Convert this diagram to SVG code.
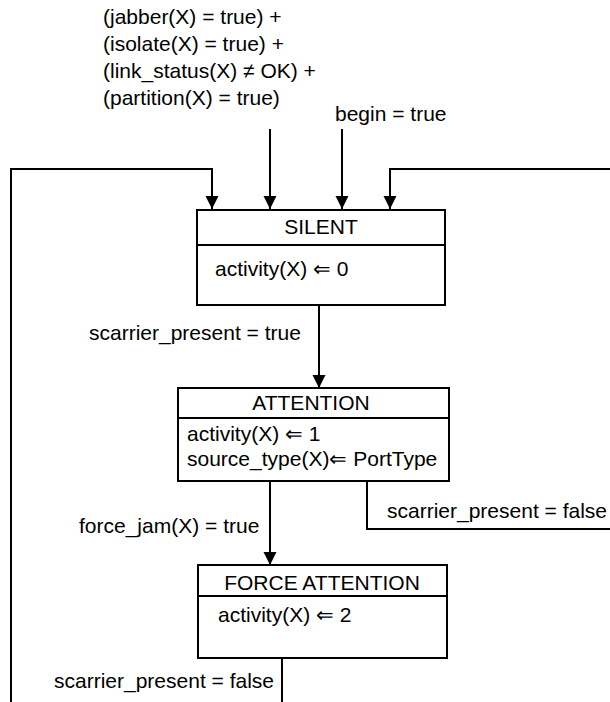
<svg xmlns="http://www.w3.org/2000/svg" width="610" height="702" viewBox="0 0 610 702">
<style>
text{font-family:"Liberation Sans",Arial,sans-serif;font-size:21px;fill:#000}
.c{text-anchor:middle}
.box{fill:#fff;stroke:#000;stroke-width:2}
.ln{fill:none;stroke:#000;stroke-width:2}
</style>
<defs>
<marker id="ah" markerUnits="userSpaceOnUse" markerWidth="14" markerHeight="14" refX="13" refY="6.5" orient="auto" viewBox="0 0 14 13">
<path d="M0,0 L13,6.5 L0,13 z" fill="#000"/>
</marker>
</defs>
<g id="labels">
<text x="103" y="24">(jabber(X) = true) +</text>
<text x="103" y="51">(isolate(X) = true) +</text>
<text x="103" y="78">(link_status(X) ≠ OK) +</text>
<text x="103" y="105">(partition(X) = true)</text>
<text x="335" y="121">begin = true</text>
<text x="89" y="340">scarrier_present = true</text>
<text x="79" y="533">force_jam(X) = true</text>
<text x="387" y="518">scarrier_present = false</text>
<text x="54" y="688">scarrier_present = false</text>
</g>
<g id="connectors">
<path class="ln" d="M11,702 V169 H212 V209" marker-end="url(#ah)"/>
<path class="ln" d="M610,169 H390 V209" marker-end="url(#ah)"/>
<path class="ln" d="M270,129 V209" marker-end="url(#ah)"/>
<path class="ln" d="M342,129 V209" marker-end="url(#ah)"/>
<path class="ln" d="M319,305 V388" marker-end="url(#ah)"/>
<path class="ln" d="M270,481 V565" marker-end="url(#ah)"/>
<path class="ln" d="M367,481 V529 H610"/>
<path class="ln" d="M282,658 V702"/>
</g>
<g id="silent">
<rect class="box" x="197" y="210" width="248" height="95"/>
<line class="ln" x1="197" y1="245" x2="445" y2="245"/>
<text class="c" x="321" y="234">SILENT</text>
<text x="215" y="276">activity(X) ⇐ 0</text>
</g>
<g id="attention">
<rect class="box" x="178" y="388" width="271" height="93"/>
<line class="ln" x1="178" y1="418" x2="449" y2="418"/>
<text class="c" x="311" y="410">ATTENTION</text>
<text x="187" y="441">activity(X) ⇐ 1</text>
<text x="187" y="466">source_type(X)⇐ PortType</text>
</g>
<g id="force-attention">
<rect class="box" x="198" y="565" width="249" height="93"/>
<line class="ln" x1="198" y1="596" x2="447" y2="596"/>
<text class="c" x="322" y="590">FORCE ATTENTION</text>
<text x="218" y="622">activity(X) ⇐ 2</text>
</g>
</svg>
